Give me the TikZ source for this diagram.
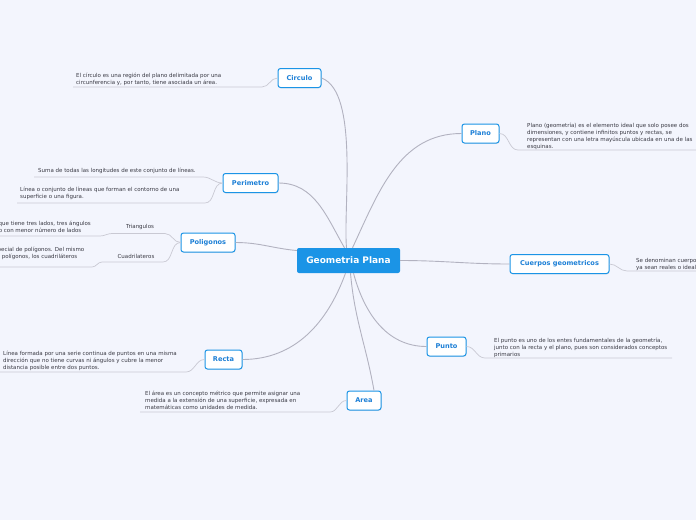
\documentclass[tikz,border=0pt]{standalone}
\usepackage{fontspec}
\setmainfont{DejaVu Sans}
\usepackage{xcolor}
\usetikzlibrary{shadows}

\definecolor{bgcol}{HTML}{F3F5FD}
\definecolor{mapblue}{HTML}{1B94E6}
\definecolor{topicblue}{HTML}{1C7FD6}
\definecolor{linegray}{HTML}{B2B2C0}
\definecolor{leafgray}{HTML}{C9C9D3}
\definecolor{leaftext}{HTML}{3A3A44}

\begin{document}
\begin{tikzpicture}[x=1pt, y=-1pt,
    root/.style={rectangle, rounded corners=2pt, fill=mapblue, text=white,
                 minimum width=103pt, minimum height=25pt,
                 font=\fontsize{9}{10}\selectfont\bfseries},
    topic/.style={rectangle, rounded corners=2.5pt, draw=mapblue, line width=1pt,
                  fill=white, text=topicblue, minimum height=19pt, inner xsep=2pt,
                  font=\fontsize{6.6}{7}\selectfont\bfseries,
                  drop shadow={opacity=0.15, shadow xshift=0.6pt, shadow yshift=-0.8pt}},
    leaf/.style={text=leaftext, align=left, anchor=north west, inner sep=0pt,
                 font=\fontsize{5.5}{7}\selectfont},
    cutleaf/.style={text=leaftext, anchor=base east, inner sep=0pt,
                    font=\fontsize{5.5}{7}\selectfont},
    sublabel/.style={text=leaftext, inner sep=0pt, font=\fontsize{5.5}{6}\selectfont},
    branch/.style={draw=linegray, line width=0.9pt},
    twig/.style={draw=leafgray, line width=0.7pt},
  ]
  \fill[bgcol] (0,0) rectangle (696,520);
  \clip (0,0) rectangle (696,520);

  % central topic and main branches
  \node[root] (geo) at (348.5,260.5) {Geometria Plana};
  \node[topic, minimum width=43pt] (circulo)   at (299.5,78)  {Circulo};
  \node[topic, minimum width=55pt] (perimetro) at (250.5,183) {Perimetro};
  \node[topic, minimum width=54pt] (poligonos) at (208,242.5) {Poligonos};
  \node[topic, minimum width=37pt] (recta)     at (223.5,359.5) {Recta};
  \node[topic, minimum width=34pt] (area)      at (364,400.5) {Area};
  \node[topic, minimum width=37pt] (plano)     at (480.5,133.5) {Plano};
  \node[topic, minimum width=99pt] (cuerpos)   at (559.5,264) {Cuerpos geometricos};
  \node[topic, minimum width=39pt] (punto)     at (446.5,346.5) {Punto};

  \draw[branch] (circulo.east) to[out=-20,in=95,looseness=0.6] ([xshift=-2pt]geo.north);
  \draw[branch] (perimetro.east) to[out=0,in=120] ([xshift=-4pt]geo.north);
  \draw[branch] (plano.west) to[out=180,in=65] ([xshift=4pt]geo.north);
  \draw[branch] (poligonos.east) to[out=0,in=175] ([yshift=10pt]geo.west);
  \draw[branch] (geo.east) to[out=0,in=180] (cuerpos.west);
  \draw[branch] ([xshift=5pt]geo.south) to[out=-75,in=180] (punto.west);
  \draw[branch] ([xshift=2pt]geo.south) to[out=-85,in=100] ([xshift=10pt]area.north);
  \draw[branch] (recta.east) to[out=0,in=-110] ([xshift=-3pt]geo.south);

  % Circulo
  \node[leaf] (circulotxt) at (76,73)
    {El círculo es una región del plano delimitada por una\\
     circunferencia y, por tanto, tiene asociada un área.};
  \coordinate (circuloA) at (262,87);
  \coordinate (circuloB) at (73,87);
  \draw[twig] (circulo.west) to[out=180,in=0] (circuloA) -- (circuloB);

  % Perimetro
  \node[leaf] (perimtxta) at (38,168)
    {Suma de todas las longitudes de este conjunto de líneas.};
  \node[leaf] (perimtxtb) at (20,187)
    {Línea o conjunto de líneas que forman el contorno de una\\
     superficie o una figura.};
  \coordinate (perimA1) at (203,177);
  \coordinate (perimA0) at (34,177);
  \coordinate (perimB1) at (205,203);
  \coordinate (perimB0) at (17,203);
  \draw[twig] (perimetro.west) to[out=180,in=0] (perimA1) -- (perimA0);
  \draw[twig] (perimetro.west) to[out=180,in=0] (perimB1) -- (perimB0);

  % Poligonos
  \node[sublabel] (triang) at (140,227) {Triangulos};
  \node[sublabel] (cuadri) at (136,256) {Cuadrilateros};
  \coordinate (triangA) at (112,233.5);
  \coordinate (triangB) at (165,233.5);
  \coordinate (triangC) at (100,236);
  \coordinate (triangD) at (0,236);
  \coordinate (cuadriA) at (102,262);
  \coordinate (cuadriB) at (163,262);
  \coordinate (cuadriC) at (92,267);
  \coordinate (cuadriD) at (0,267);
  \draw[twig] (poligonos.west) to[out=180,in=0] (triangB) -- (triangA)
    to[out=180,in=0] (triangC) -- (triangD);
  \draw[twig] (poligonos.west) to[out=180,in=0] (cuadriB) -- (cuadriA)
    to[out=180,in=0] (cuadriC) -- (cuadriD);
  \node[cutleaf] (triangtxta) at (91,225)
    {El triángulo es un polígono que tiene tres lados, tres ángulos};
  \node[cutleaf] (triangtxtb) at (81.5,232)
    {y tres vértices, y es el polígono con menor número de lados};
  \node[cutleaf] (cuadritxta) at (84.5,251)
    {Los cuadriláteros son un tipo especial de polígonos. Del mismo};
  \node[cutleaf] (cuadritxtb) at (77.5,258)
    {modo que ocurre con el resto de polígonos, los cuadriláteros};

  % Recta
  \node[leaf] (rectatxt) at (3,351)
    {Línea formada por una serie continua de puntos en una misma\\
     dirección que no tiene curvas ni ángulos y cubre la menor\\
     distancia posible entre dos puntos.};
  \coordinate (rectaA) at (186,372);
  \coordinate (rectaB) at (0,372);
  \draw[twig] (recta.west) to[out=180,in=0] (rectaA) -- (rectaB);

  % Area
  \node[leaf] (areatxt) at (145,391)
    {El área es un concepto métrico que permite asignar una\\
     medida a la extensión de una superficie, expresada en\\
     matemáticas como unidades de medida.};
  \coordinate (areaA) at (330,412);
  \coordinate (areaB) at (140,412);
  \draw[twig] (area.west) to[out=180,in=0] (areaA) -- (areaB);

  % Plano
  \node[leaf] (planotxt) at (527,123)
    {Plano (geometría) es el elemento ideal que solo posee dos\\
     dimensiones, y contiene infinitos puntos y rectas, se\\
     representan con una letra mayúscula ubicada en una de las\\
     esquinas.};
  \coordinate (planoA) at (518,150);
  \coordinate (planoB) at (696,150);
  \draw[twig] (plano.east) to[out=0,in=180] (planoA) -- (planoB);

  % Cuerpos geometricos
  \node[leaf] (cuerpostxt) at (636,258)
    {Se denominan cuerpos geométricos a aquellos elementos que,\\
     ya sean reales o ideales, ocupan un volumen en el espacio.};
  \coordinate (cuerposA) at (627,271);
  \coordinate (cuerposB) at (696,271);
  \draw[twig] (cuerpos.east) to[out=0,in=180] (cuerposA) -- (cuerposB);

  % Punto
  \node[leaf] (puntotxt) at (494,338)
    {El punto es uno de los entes fundamentales de la geometría,\\
     junto con la recta y el plano, pues son considerados conceptos\\
     primarios};
  \coordinate (puntoA) at (485,358);
  \coordinate (puntoB) at (672,358);
  \draw[twig] (punto.east) to[out=0,in=180] (puntoA) -- (puntoB);
\end{tikzpicture}
\end{document}
